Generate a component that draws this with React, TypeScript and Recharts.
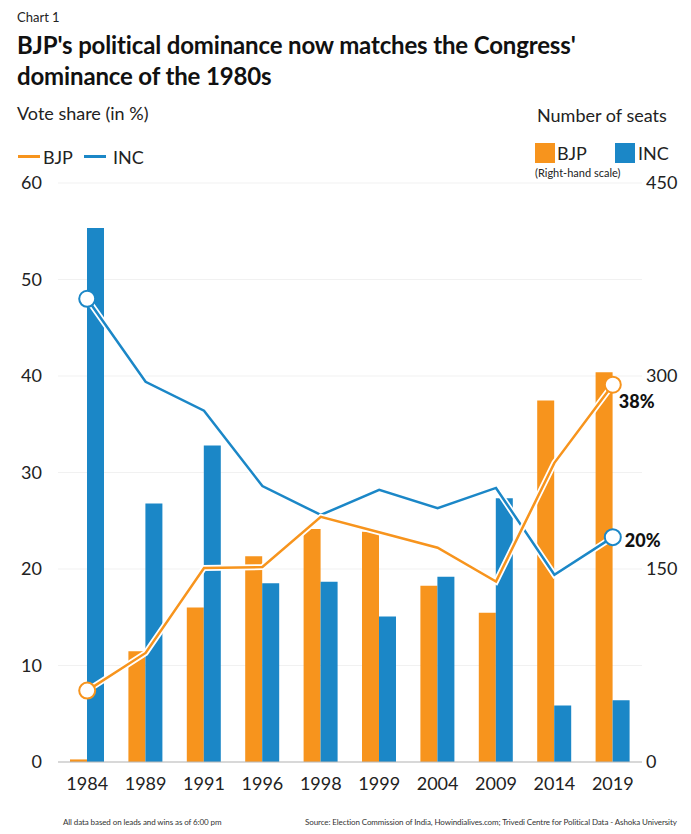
import React from "react";
import {
  ComposedChart,
  Bar,
  Line,
  XAxis,
  YAxis,
  CartesianGrid,
} from "recharts";

const years = ["1984", "1989", "1991", "1996", "1998", "1999", "2004", "2009", "2014", "2019"];
const bjpSeats = [2, 86, 120, 160, 181, 179, 137, 116, 281, 303];
const incSeats = [415, 201, 246, 139, 140, 113, 144, 205, 44, 48];
const bjpVote = [7.4, 11.3, 20.1, 20.2, 25.4, 23.8, 22.2, 18.7, 31.0, 39.1];
const incVote = [48.0, 39.4, 36.4, 28.6, 25.6, 28.2, 26.3, 28.4, 19.4, 23.3];
const voteTicks = [0, 10, 20, 30, 40, 50, 60];
const seatTicks = [0, 150, 300, 450];
const endLabels = { bjp: "38%", inc: "20%" };

const ORANGE = "#f7941d";
const BLUE = "#1b87c7";
const FONT = "Lato, 'Open Sans', sans-serif";

const data = years.map((y, i) => ({
  year: y,
  bjpSeats: bjpSeats[i],
  incSeats: incSeats[i],
  bjpVote: bjpVote[i],
  incVote: incVote[i],
}));

const last = years.length - 1;

function endDot(color: string) {
  return (props: any) => {
    const { cx, cy, index } = props;
    if (index !== 0 && index !== last) return <g key={`d-${index}`} />;
    return (
      <circle
        key={`d-${index}`}
        cx={cx}
        cy={cy}
        r={8}
        fill="#fff"
        stroke={color}
        strokeWidth={2}
      />
    );
  };
}

function endLabel(text: string, dx: number, dy: number) {
  return (props: any) => {
    const { x, y, index } = props;
    if (index !== last) return null;
    return (
      <text
        x={x + dx}
        y={y + dy}
        dominantBaseline="central"
        fontFamily={FONT}
        fontWeight={900}
        fontSize={18}
        fill="#111"
      >
        {text}
      </text>
    );
  };
}

const abs = (s: React.CSSProperties): React.CSSProperties => ({
  position: "absolute",
  fontFamily: FONT,
  color: "#222",
  whiteSpace: "nowrap",
  ...s,
});

export default function App() {
  return (
    <div style={{ position: "absolute", left: 0, top: 0, width: 691, height: 834, background: "#fff" }}>
      <div style={abs({ left: 17, top: 9, fontSize: 13, lineHeight: "16px" })}>Chart 1</div>
      <div
        style={abs({
          left: 17,
          top: 29,
          fontSize: 24,
          lineHeight: "31px",
          fontWeight: 700,
          color: "#111",
          letterSpacing: -0.15,
        })}
      >
        BJP's political dominance now matches the Congress'
        <br />
        dominance of the 1980s
      </div>

      <div style={abs({ left: 17, top: 102, fontSize: 18, lineHeight: "22px" })}>Vote share (in %)</div>
      <div style={abs({ left: 537, top: 104, fontSize: 18, lineHeight: "22px" })}>Number of seats</div>

      {/* line legend */}
      <div style={abs({ left: 18, top: 155, width: 22, height: 3, background: ORANGE })} />
      <div style={abs({ left: 43, top: 146, fontSize: 18, lineHeight: "22px" })}>BJP</div>
      <div style={abs({ left: 84, top: 155, width: 22, height: 3, background: BLUE })} />
      <div style={abs({ left: 113, top: 146, fontSize: 18, lineHeight: "22px" })}>INC</div>

      {/* bar legend */}
      <div style={abs({ left: 535, top: 143, width: 20, height: 20, background: ORANGE })} />
      <div style={abs({ left: 557, top: 142, fontSize: 18, lineHeight: "22px" })}>BJP</div>
      <div style={abs({ left: 615, top: 143, width: 20, height: 20, background: BLUE })} />
      <div style={abs({ left: 638, top: 142, fontSize: 18, lineHeight: "22px" })}>INC</div>
      <div style={abs({ left: 535, top: 166, fontSize: 11, lineHeight: "14px" })}>(Right-hand scale)</div>

      <div style={{ position: "absolute", left: 0, top: 0 }}>
        <ComposedChart
          width={691}
          height={834}
          data={data}
          margin={{ top: 183, right: 0, bottom: 42, left: 0 }}
          barGap={0}
        >
          <CartesianGrid vertical={false} stroke="#f1f1f1" yAxisId="left" />
          <XAxis
            dataKey="year"
            interval={0}
            tickLine={false}
            axisLine={{ stroke: "#b8b8b8" }}
            tickSize={0}
            tickMargin={15}
            height={30}
            tick={{ fill: "#222", fontSize: 18, fontFamily: FONT }}
          />
          <YAxis
            yAxisId="left"
            orientation="left"
            domain={[0, 60]}
            ticks={voteTicks}
            width={58}
            axisLine={false}
            tickLine={false}
            tickSize={0}
            tickMargin={16}
            tick={{ fill: "#222", fontSize: 18, fontFamily: FONT }}
          />
          <YAxis
            yAxisId="right"
            orientation="right"
            domain={[0, 450]}
            ticks={seatTicks}
            width={49}
            axisLine={false}
            tickLine={false}
            tickSize={0}
            tickMargin={4}
            tick={{ fill: "#222", fontSize: 18, fontFamily: FONT }}
          />
          <Bar yAxisId="right" dataKey="bjpSeats" fill={ORANGE} barSize={17} isAnimationActive={false} />
          <Bar yAxisId="right" dataKey="incSeats" fill={BLUE} barSize={17} isAnimationActive={false} />

          <Line
            yAxisId="left"
            dataKey="incVote"
            stroke="#fff"
            strokeWidth={6}
            dot={false}
            activeDot={false}
            isAnimationActive={false}
          />
          <Line
            yAxisId="left"
            dataKey="incVote"
            stroke={BLUE}
            strokeWidth={2.5}
            dot={endDot(BLUE)}
            activeDot={false}
            label={endLabel(endLabels.inc, 12, 3)}
            isAnimationActive={false}
          />
          <Line
            yAxisId="left"
            dataKey="bjpVote"
            stroke="#fff"
            strokeWidth={6}
            dot={false}
            activeDot={false}
            isAnimationActive={false}
          />
          <Line
            yAxisId="left"
            dataKey="bjpVote"
            stroke={ORANGE}
            strokeWidth={2.5}
            dot={endDot(ORANGE)}
            activeDot={false}
            label={endLabel(endLabels.bjp, 6, 16)}
            isAnimationActive={false}
          />
        </ComposedChart>
      </div>

      <div style={abs({ left: 63, top: 816, fontSize: 8, lineHeight: "12px", color: "#333", letterSpacing: -0.1 })}>
        All data based on leads and wins as of 6:00 pm
      </div>
      <div style={abs({ left: 305, top: 816, fontSize: 8, lineHeight: "12px", color: "#333", letterSpacing: -0.1 })}>
        Source: Election Commission of India, Howindialives.com; Trivedi Centre for Political Data - Ashoka University
      </div>
    </div>
  );
}
